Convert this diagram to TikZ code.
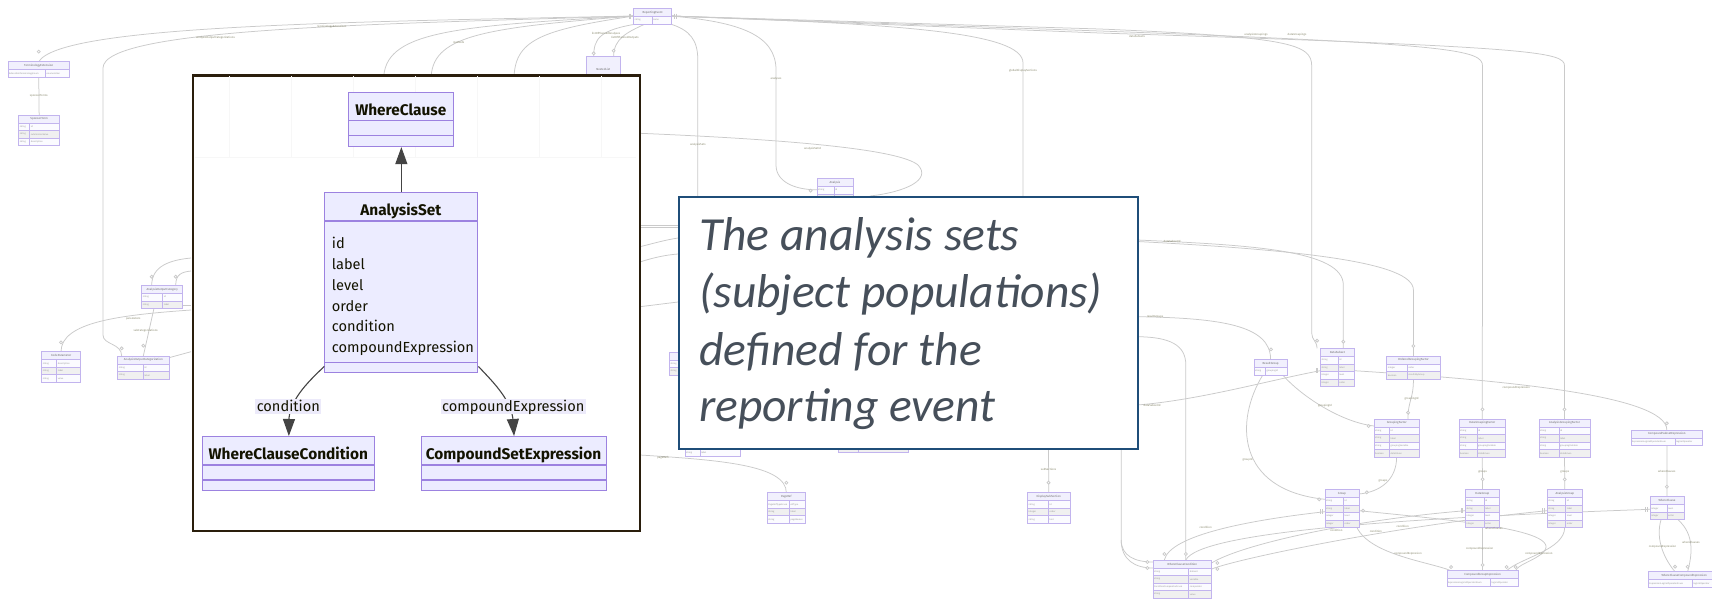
\documentclass[tikz,border=0pt]{standalone}
\usepackage{fontspec}
\setmainfont{Fira Sans}
\newfontfamily\carl{Carlito}
\usetikzlibrary{arrows.meta,calc}
\pgfdeclarelayer{bg}
\pgfdeclarelayer{bglines}
\pgfsetlayers{bg,bglines,main}
\definecolor{erfill}{HTML}{F1F0FD}
\definecolor{erborder}{HTML}{C2B4EE}
\definecolor{erodd}{HTML}{FBFBFF}
\definecolor{ereven}{HTML}{F0F0F0}
\definecolor{ertxt}{HTML}{9A9A9A}
\definecolor{ertitlec}{HTML}{707070}
\definecolor{bgl}{HTML}{CACACA}
\definecolor{bglabc}{HTML}{8C8C72}
\definecolor{clsfill}{HTML}{ECECFF}
\definecolor{clsborder}{HTML}{9C82E0}
\definecolor{clstext}{HTML}{131300}
\definecolor{clsline}{HTML}{444444}
\definecolor{labfill}{HTML}{ECEAFA}
\definecolor{insetc}{HTML}{2A1E0C}
\definecolor{callc}{HTML}{1F4E79}
\definecolor{calltext}{HTML}{464F5A}
\definecolor{gridc}{HTML}{F7F7F7}

% background ER entity: name, x, y, width, column offset, title, rows, list type/attr
\newcommand\erent[8]{%
  \node[erbox,anchor=north west,minimum width=#4pt,minimum height={8pt+#7*7.5pt}] (#1) at (#2,#3) {};
  \foreach \rty/\rat [count=\i] in {#8}{%
    \pgfmathsetmacro\yy{8+(\i-1)*7.5}%
    \ifodd\i\relax\def\rc{erodd}\else\def\rc{ereven}\fi
    \fill[fill=\rc] ($(#1.north west)+(0,\yy)$) rectangle ++(#4,7.5);
    \node[errow] (#1-t\i) at ($(#1.north west)+(1,\yy+3.75)$) {\rty};
    \node[errow] (#1-a\i) at ($(#1.north west)+(#5+1,\yy+3.75)$) {\rat};
    \draw[erdiv] ($(#1.north west)+(0,\yy)$) -- ++(#4,0);
  }%
  \draw[erdiv] ($(#1.north west)+(#5,8)$) -- ($(#1.south west)+(#5,0)$);
  \node[ertitle] (#1-h) at ($(#1.north)+(0,4)$) {#6};
  \draw[erdiv] (#1.north west) rectangle (#1.south east);
}
\newcommand\zcirc[1]{\draw[bgline,fill=white] #1 circle (1.5);}
\newcommand\mybars[1]{\draw[bgline] ($#1+(-0.8,-2.5)$) -- ++(0,5) ($#1+(0.8,-2.5)$) -- ++(0,5);}

\begin{document}
\begin{tikzpicture}[x=1pt,y=-1pt,
  bgline/.style={draw=bgl,line width=0.75pt},
  bglab/.style={font=\fontsize{2.8}{3.2}\selectfont,text=bglabc,inner sep=0.3pt},
  erbox/.style={fill=erfill,draw=none,inner sep=0,outer sep=0},
  ertitle/.style={font=\fontsize{2.9}{3.3}\selectfont,text=ertitlec,inner sep=0},
  errow/.style={font=\fontsize{2.3}{2.7}\selectfont,text=ertxt,inner sep=0,anchor=west},
  erdiv/.style={draw=erborder,line width=0.5pt},
  cls/.style={draw=clsborder,fill=clsfill,line width=1.1pt,inner sep=0,anchor=north west},
  clsb/.style={draw=clsborder,line width=1.1pt},
  clstitle/.style={font=\fontsize{15.4}{18}\selectfont\bfseries,text=clstext,inner sep=0,anchor=base},
  clsattr/.style={font=\fontsize{14.6}{17}\selectfont,text=clstext,inner sep=0,anchor=base west},
  clsedge/.style={draw=clsline,line width=1.1pt},
  clsarrow/.style={-{Triangle[length=17pt,width=12pt]}},
  elab/.style={font=\fontsize{14.6}{17}\selectfont,text=clstext,fill=labfill,inner xsep=1.5pt,inner ysep=0pt,text height=12.5pt,text depth=3pt,anchor=base},
  calltxt/.style={font=\carl\itshape\fontsize{47.5}{57}\selectfont,text=calltext,inner sep=0,anchor=base west}
]
\useasboundingbox (0,0) rectangle (1712,600);
\begin{pgfonlayer}{bg}
\fill[white] (0,0) rectangle (1712,600);
\end{pgfonlayer}
\clip (0,0) rectangle (1712,600);

% ---------------- background entities ----------------
\erent{te}{7.9}{61.7}{61.7}{37.6}{TerminologyExtension}{1}{ExtensibleTerminologyEnum/enumeration}
\erent{st}{18.6}{115}{41.1}{11.1}{SponsorTerm}{3}{string/id,string/submissionValue,string/description}
\erent{ac}{141.7}{285.3}{41}{21}{AnalysisOutputCategory}{2}{string/id,string/label}
\erent{acz}{117.7}{356}{51.3}{25.6}{AnalysisOutputCategorization}{2}{string/id,string/label}
\erent{cp}{41.7}{351.7}{39}{15}{CodeParameter}{3}{string/description,string/label,string/value}
\erent{re}{633.5}{8.3}{38.2}{18.3}{ReportingEvent}{1}{string/name}
\node[erbox,draw=erborder,line width=0.5pt,anchor=north west,minimum width=34.5pt,minimum height=25pt] (nl) at (586,56.7) {};
\node[ertitle] (nl-h) at (nl.center) {NestedList};
\erent{an}{817}{178.3}{35.8}{17}{Analysis}{2}{string/id,string/name}
\erent{pr}{767.2}{492.7}{38.3}{22.2}{PageRef}{3}{PageRefTypeEnum/refType,string/label,string/pageNames}
\erent{dss}{1027.5}{492.7}{42.5}{21}{DisplaySubSection}{3}{string/id,integer/order,string/text}
\erent{bxa}{685}{426}{55}{15}{Output}{3}{string/id,string/name,string/label}
\erent{bxb}{838}{429.7}{70.5}{20}{DisplaySection}{2}{string/sectionType,string/subSection}
\erent{bxc}{669.3}{352}{40}{15}{Document}{2}{string/id,string/name}
\erent{rg}{1253.9}{359.3}{33.4}{11.5}{ResultGroup}{1}{string/groupingId}
\erent{ds}{1320.3}{348.3}{34}{17.9}{DataSubset}{4}{string/id,string/label,integer/level,integer/order}
\erent{ogf}{1386.6}{356}{53.7}{20.7}{OrderedGroupingFactor}{2}{integer/order,boolean/resultsByGroup}
\erent{gf}{1374}{419}{45.5}{15.4}{GroupingFactor}{4}{string/id,string/label,string/groupingVariable,boolean/dataDriven}
\erent{dgf}{1459}{419}{46.6}{18}{DataGroupingFactor}{4}{string/id,string/label,string/groupingVariable,boolean/dataDriven}
\erent{agf}{1538.9}{419}{51.2}{20}{AnalysisGroupingFactor}{4}{string/id,string/label,string/groupingVariable,boolean/dataDriven}
\erent{csx}{1631}{430}{71.7}{44}{CompoundSubsetExpression}{1}{ExpressionLogicalOperatorEnum/logicalOperator}
\erent{grp}{1324.9}{489.3}{34.1}{18.6}{Group}{4}{string/id,string/label,integer/level,integer/order}
\erent{dg}{1465.4}{489.3}{34.1}{18.6}{DataGroup}{4}{string/id,string/label,integer/level,integer/order}
\erent{ag}{1547.1}{489.3}{35.5}{18.6}{AnalysisGroup}{4}{string/id,string/label,integer/level,integer/order}
\erent{wcs}{1650}{496.7}{34}{17}{WhereClause}{2}{integer/level,integer/order}
\erent{wcc2}{1152.9}{560}{58.7}{35.8}{WhereClauseCondition}{4}{string/dataset,string/variable,ConditionComparatorEnum/comparator,string/value}
\erent{cge}{1446.8}{570.7}{71.7}{43.7}{CompoundGroupExpression}{1}{ExpressionLogicalOperatorEnum/logicalOperator}
\erent{wce}{1648.2}{571.7}{72}{44}{WhereClauseCompoundExpression}{1}{ExpressionLogicalOperatorEnum/logicalOperator}

% ---------------- background connectors ----------------
\begin{pgfonlayer}{bglines}
\draw[bgline] (re.west) .. controls (330,22) and (60,26) .. (te.north);
\draw[bgline] (te.south) -- (st.north);
\draw[bgline] (re.west) .. controls (380,24) and (103,28) .. (103,68) -- (103,335) .. controls (103,345) and (121.7,343) .. (121.7,356);
\draw[bgline] (re.west) .. controls (450,26) and (383.6,32) .. (383.6,80);
\draw[bgline] (re.west) .. controls (480,28) and (431,36) .. (431,80);
\draw[bgline] (re.west) .. controls (540,30) and (514,40) .. (514,80);
\draw[bgline] ($(re.south west)+(4,0)$) .. controls (600,30) and (593.7,38) .. (593.7,56.7);
\draw[bgline] ($(re.south west)+(12,0)$) .. controls (628,32) and (613.6,38) .. (613.6,56.7);
\draw[bgline] ($(re.south east)+(-2,0)$) .. controls (690,30) and (697.8,40) .. (697.8,60) -- (697.8,200);
\draw[bgline] (re.east) .. controls (740,22) and (776,35) .. (776,70) -- (776,165) .. controls (776,182) and (795,189.8) .. (an.west);
\draw[bgline] (re.east) .. controls (900,24) and (1023,32) .. (1023,63) -- (1023,200);
\draw[bgline] (re.east) -- (1100,29) .. controls (1290,37) and (1311.7,44) .. (1311.7,66) -- (1311.7,333) .. controls (1311.7,340) and (1317,341) .. (1317,348.3);
\draw[bgline] (re.east) -- (1100,31) .. controls (1455,44) and (1482.5,50) .. (1482.5,66) -- (dgf.north);
\draw[bgline] (re.east) -- (1100,33) .. controls (1540,47) and (1564.5,52) .. (1564.5,66) -- (agf.north);
\draw[bgline] (640,133.3) .. controls (800,140) and (900,150) .. (918,165) .. controls (932,180) and (905,192) .. (870,196);
% left of the inset
\draw[bgline] (191,258) .. controls (170,260) and (151.7,266) .. (151.7,285.3);
\draw[bgline] (191,271) .. controls (182,272) and (175.7,274) .. (175.7,285.3);
\draw[bgline] (154,308.3) -- (143.3,356);
\draw[bgline] (191,310) .. controls (120,315) and (61,322) .. (61,351.7);
\draw[bgline] (169,357.7) -- (191,351.7);
\draw[bgline] (182.7,305) -- (191,305);
% between inset and callout
\draw[bgline] (640,225.7) -- (678,225.7);
\draw[bgline] (640,227.5) -- (678,227.5);
\draw[bgline] (640,246.7) .. controls (655,243) and (665,240) .. (678,238);
\draw[bgline] (640,262) .. controls (652,258) and (665,255) .. (678,254);
\draw[bgline] (640,306.7) -- (678,302);
\draw[bgline] (640,455) .. controls (720,460) and (786.35,465) .. (pr.north);
\draw[bgline] (1048.5,447.7) -- (dss.north);
% right part
\draw[bgline] (1137.3,240) .. controls (1250,245) and (1343.3,250) .. (1343.3,285) -- (1343.3,348.3);
\draw[bgline] (1137.3,241.5) .. controls (1300,250) and (1413.4,262) .. (1413.4,290) -- (ogf.north);
\draw[bgline] (1137.3,316.7) .. controls (1220,318) and (1270.6,325) .. (rg.north);
\draw[bgline] (1137.3,336.7) .. controls (1170,337) and (1185.8,345) .. (1185.8,365) -- (1185.8,560);
\draw[bgline] (1137.3,405) .. controls (1200,400) and (1270,380) .. (1320.3,370.7);
\draw[bgline] (1121.2,447.7) -- (1121.2,540) .. controls (1121.2,556) and (1135,562) .. (1152.9,562);
\draw[bgline] (1121.2,540) .. controls (1121.2,560) and (1135,568) .. (1152.9,568);
\draw[bgline] (1282.6,374.8) .. controls (1300,395) and (1340,422) .. (1374,426);
\draw[bgline] (ogf.south) .. controls (1413.4,400) and (1408,400) .. (1408,419);
\draw[bgline] (1354.3,370.7) .. controls (1500,380) and (1666.8,395) .. (csx.north);
\draw[bgline] (1396.6,457) .. controls (1396.6,480) and (1380,492) .. (1359,494);
\draw[bgline] (1262.9,374.8) .. controls (1235,420) and (1235,490) .. (1324.9,499.3);
\draw[bgline] (dgf.south) -- (dg.north);
\draw[bgline] (agf.south) -- (ag.north);
\draw[bgline] (csx.south) -- (wcs.north);
\draw[bgline] (1324.9,511.7) .. controls (1250,520) and (1170,535) .. (1164.3,560);
\draw[bgline] (1465.4,510.7) .. controls (1350,520) and (1240,545) .. (1211.6,563);
\draw[bgline] (1547.1,510.7) .. controls (1400,525) and (1240,558) .. (1211.6,569);
\draw[bgline] (1650,509.3) .. controls (1400,518) and (1200,532) .. (1185.8,560);
\draw[bgline] (1356.8,527.3) .. controls (1370,555) and (1430,562) .. (1451,570.7);
\draw[bgline] (dg.south) -- (1482.6,570.7);
\draw[bgline] (1564.7,527.3) .. controls (1564.7,550) and (1520,558) .. (1506.6,570.7);
\draw[bgline] (1359,510.7) .. controls (1450,520) and (1575,530) .. (1540,555) .. controls (1530,562) and (1518,565) .. (1515.6,570.7);
\draw[bgline] (1661,519.7) .. controls (1655,540) and (1665,560) .. (1675,571.7);
\draw[bgline] (1678,519.7) .. controls (1695,535) and (1692,555) .. (1687.6,571.7);
\end{pgfonlayer}

% markers
\mybars{(630,16)} \mybars{(675.5,16)} \mybars{(1316.7,370.7)} \mybars{(1321.5,511.7)}
\mybars{(1462,510.7)} \mybars{(1543.5,510.7)} \mybars{(1646.5,509.3)}
\zcirc{(38.75,51.7)} \zcirc{(121.7,348.3)} \zcirc{(593.7,53.3)} \zcirc{(613.6,50.7)}
\zcirc{(810.7,190.7)} \zcirc{(1317,340.7)} \zcirc{(1343.3,341.7)} \zcirc{(1413.4,346)}
\zcirc{(1271,349.3)} \zcirc{(1368.6,426)} \zcirc{(1408,412.7)} \zcirc{(1482.5,409.3)}
\zcirc{(1564.5,409.3)} \zcirc{(1666.8,423.3)} \zcirc{(1366.8,492.3)} \zcirc{(1319.2,499.3)}
\zcirc{(1482.6,479.3)} \zcirc{(1564.7,479.3)} \zcirc{(1666.8,486.7)} \zcirc{(1363,510.7)}
\zcirc{(1164.3,554)} \zcirc{(1185.8,554)} \zcirc{(1217.4,563)} \zcirc{(1217.4,569)}
\zcirc{(1147.3,562)} \zcirc{(1147.3,568)} \zcirc{(1451,567)} \zcirc{(1482.6,565)}
\zcirc{(1506.6,567)} \zcirc{(1515.6,567)} \zcirc{(1675,566.7)} \zcirc{(1687.6,566.7)}
\zcirc{(151.7,276.7)} \zcirc{(175.7,276.7)} \zcirc{(143.3,345.7)} \zcirc{(61,342.3)}
\zcirc{(786.4,482.7)} \zcirc{(1048.5,482.7)}

% background labels
\node[bglab] (bl1) at (332,26.5) {terminologyExtensions};
\node[bglab] (bl2) at (38.8,96) {sponsorTerms};
\node[bglab] (bl3) at (215.5,38) {analysisOutputCategorizations};
\node[bglab] (bl4) at (458.7,42.7) {methods};
\node[bglab] (bl5) at (606,33.3) {listOfPlannedAnalyses};
\node[bglab] (bl6) at (625,37.7) {listOfPlannedOutputs};
\node[bglab] (bl7) at (697.8,145) {analysisSets};
\node[bglab] (bl8) at (776,79) {analyses};
\node[bglab] (bl9) at (812.6,149) {analysisSetId};
\node[bglab] (bl10) at (1023,70.7) {globalDisplaySections};
\node[bglab] (bl11) at (1137,36.7) {dataSubsets};
\node[bglab] (bl12) at (1256,35) {analysisGroupings};
\node[bglab] (bl13) at (1297,35) {dataGroupings};
\node[bglab] (bl14) at (145.7,331) {subCategorizations};
\node[bglab] (bl15) at (133.3,319.3) {parameters};
\node[bglab] (bl16) at (663,457.7) {pageRefs};
\node[bglab] (bl17) at (1048.5,469) {subSections};
\node[bglab] (bl18) at (1325,406) {groupingId};
\node[bglab] (bl19) at (1411.6,399) {groupingId};
\node[bglab] (bl20) at (1516.3,387.3) {compoundExpression};
\node[bglab] (bl21) at (1383,481) {groups};
\node[bglab] (bl22) at (1247.5,459.3) {groupId};
\node[bglab] (bl23) at (1482.6,472.3) {groups};
\node[bglab] (bl24) at (1564.7,472.3) {groups};
\node[bglab] (bl25) at (1666.8,471) {whereClauses};
\node[bglab] (bl26) at (1205.6,527.7) {condition};
\node[bglab] (bl27) at (1336.4,530) {condition};
\node[bglab] (bl28) at (1375.8,531) {condition};
\node[bglab] (bl29) at (1402.7,526.7) {condition};
\node[bglab] (bl30) at (1408,553.3) {compoundExpression};
\node[bglab] (bl31) at (1479.7,548.3) {compoundExpression};
\node[bglab] (bl32) at (1538.9,553.3) {compoundExpression};
\node[bglab] (bl33) at (1494,528.3) {whereClauses};
\node[bglab] (bl34) at (1662.5,546.7) {compoundExpression};
\node[bglab] (bl35) at (1691,542.7) {whereClauses};
\node[bglab] (bl36) at (1172,241.5) {dataSubsetId};
\node[bglab] (bl37) at (1155,316.7) {resultGroups};
\node[bglab] (bl38) at (1152,405) {dataSubsetId};

% ---------------- inset ----------------
\node[draw=insetc,line width=2.2pt,fill=white,inner sep=0,minimum width=447pt,minimum height=455.5pt,anchor=north west] (inset) at (192.1,74.4) {};
\foreach \gx in {229,291,...,630} \draw[gridc,line width=0.6pt] (\gx,76) -- (\gx,158);
\draw[gridc,line width=0.6pt] (195,157) -- (636,157);

\node[cls,minimum width=105pt,minimum height=53.7pt] (wc) at (348.3,92.3) {};
\draw[clsb] ($(wc.north west)+(0,28.4)$) -- ++(105,0);
\draw[clsb] ($(wc.north west)+(0,43.4)$) -- ++(105,0);
\node[clstitle] (wct) at (400.8,115) {WhereClause};

\node[cls,minimum width=153pt,minimum height=180pt] (as) at (324.3,192.3) {};
\draw[clsb] ($(as.north west)+(0,28.7)$) -- ++(153,0);
\draw[clsb] ($(as.north west)+(0,170)$) -- ++(153,0);
\node[clstitle] (ast) at (400.8,215.7) {AnalysisSet};
\foreach \t [count=\k] in {id,label,level,order,condition,compoundExpression}
  \node[clsattr] (asa\k) at (331.7,{248.3+(\k-1)*20.9}) {\t};

\node[cls,minimum width=172pt,minimum height=54pt] (wcc) at (202.3,436) {};
\draw[clsb] ($(wcc.north west)+(0,29)$) -- ++(172,0);
\draw[clsb] ($(wcc.north west)+(0,44)$) -- ++(172,0);
\node[clstitle] (wcct) at (288.3,459.3) {WhereClauseCondition};

\node[cls,minimum width=185pt,minimum height=54pt] (cse) at (421,436) {};
\draw[clsb] ($(cse.north west)+(0,29)$) -- ++(185,0);
\draw[clsb] ($(cse.north west)+(0,44)$) -- ++(185,0);
\node[clstitle] (cset) at (513.5,459.3) {CompoundSetExpression};

\draw[clsedge,clsarrow] (as.north) -- (wc.south);
\draw[clsedge,clsarrow] ($(as.south west)+(0,-7)$) .. controls (310,380) and (291,398) .. (289,418) -- (wcc.north);
\draw[clsedge,clsarrow] ($(as.south east)+(0,-7)$) .. controls (491,380) and (510,398) .. (512.8,418) -- (cse.north);
\node[elab] (lcond) at (288.3,411) {condition};
\node[elab] (lcomp) at (513.3,411) {compoundExpression};

% ---------------- callout ----------------
\node[draw=callc,line width=2pt,fill=white,inner sep=0,minimum width=459pt,minimum height=252pt,anchor=north west] (callout) at (678.3,195.7) {};
\node[calltxt] (t1) at (699,250) {The analysis sets};
\node[calltxt] (t2) at (699,307.3) {(subject populations)};
\node[calltxt] (t3) at (699,365) {defined for the};
\node[calltxt] (t4) at (699,421.7) {reporting event};
\end{tikzpicture}
\end{document}
